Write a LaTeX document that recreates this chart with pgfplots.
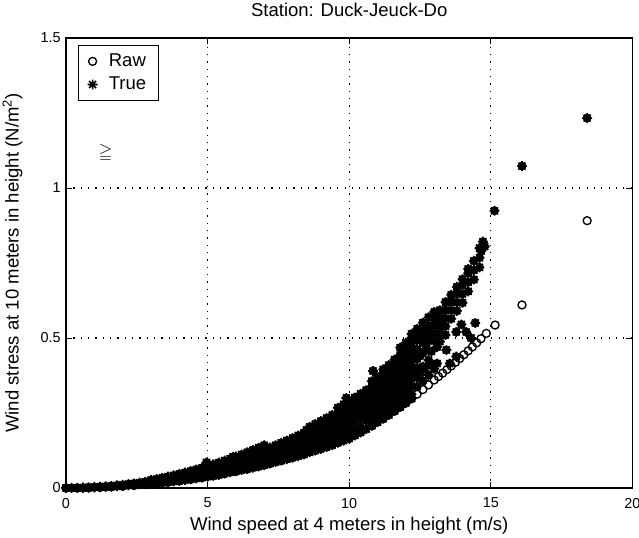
\documentclass[border=0pt]{standalone}
\usepackage{fontspec}
\usepackage{amssymb}
\setmainfont{Liberation Sans}
\usepackage{pgfplots}
\usepackage{pgfplotstable}
\pgfplotsset{compat=1.18}
\newcommand\labelfont{\fontsize{13.9}{16}\selectfont}
\newcommand\tickfont{\fontsize{10.8}{12}\selectfont}
\pgfdeclareplotmark{mstar}{%
 \pgfpathmoveto{\pgfqpoint{-\pgfplotmarksize}{0pt}}\pgfpathlineto{\pgfqpoint{\pgfplotmarksize}{0pt}}%
 \pgfpathmoveto{\pgfqpoint{0pt}{-\pgfplotmarksize}}\pgfpathlineto{\pgfqpoint{0pt}{\pgfplotmarksize}}%
 \pgfpathmoveto{\pgfqpoint{-0.7071\pgfplotmarksize}{-0.7071\pgfplotmarksize}}\pgfpathlineto{\pgfqpoint{0.7071\pgfplotmarksize}{0.7071\pgfplotmarksize}}%
 \pgfpathmoveto{\pgfqpoint{-0.7071\pgfplotmarksize}{0.7071\pgfplotmarksize}}\pgfpathlineto{\pgfqpoint{0.7071\pgfplotmarksize}{-0.7071\pgfplotmarksize}}%
 \pgfusepathqstroke}
\pgfplotstableread[row sep=\\]{
x y\\
0 0\\ 0.2 0.0001\\ 0.4 0.0003\\ 0.6 0.0006\\ 0.6 0.0009\\ 0.8 0.0012\\ 0.8 0.0017\\ 1 0.0018\\ 1 0.0026\\
1.2 0.0026\\ 1.2 0.0037\\ 1.4 0.0035\\ 1.4 0.0051\\ 1.6 0.0046\\ 1.6 0.0067\\ 1.8 0.0058\\ 1.8 0.0084\\
2 0.0072\\ 2 0.0104\\ 2.2 0.0087\\ 2.2 0.0126\\ 2.4 0.0104\\ 2.4 0.015\\ 2.6 0.0122\\ 2.6 0.0176\\
2.8 0.0141\\ 2.8 0.0204\\
3 0.0135\\ 3 0.0198\\ 3 0.0261\\
3.2 0.0154\\ 3.2 0.0225\\ 3.2 0.0297\\
3.4 0.0173\\ 3.4 0.0254\\ 3.4 0.0335\\
3.6 0.0194\\ 3.6 0.0285\\ 3.6 0.0376\\
3.8 0.0217\\ 3.8 0.0318\\ 3.8 0.0419\\
4 0.024\\ 4 0.0352\\ 4 0.0464\\
4.2 0.0265\\ 4.2 0.0388\\ 4.2 0.0512\\
4.4 0.029\\ 4.4 0.0426\\ 4.4 0.0561\\
4.6 0.0317\\ 4.6 0.0466\\ 4.6 0.0614\\
4.8 0.0346\\ 4.8 0.0507\\ 4.8 0.0668\\
5 0.0375\\ 5 0.055\\ 5 0.0725\\
5.2 0.0406\\ 5.2 0.0595\\ 5.2 0.0784\\
5.4 0.0437\\ 5.4 0.0642\\ 5.4 0.0846\\
5.6 0.0486\\ 5.6 0.0627\\ 5.6 0.0768\\ 5.6 0.0909\\
5.8 0.0521\\ 5.8 0.0673\\ 5.8 0.0824\\ 5.8 0.0976\\
6 0.0558\\ 6 0.072\\ 6 0.0882\\ 6 0.1044\\
6.2 0.0596\\ 6.2 0.0769\\ 6.2 0.0942\\ 6.2 0.1115\\
6.4 0.0635\\ 6.4 0.0819\\ 6.4 0.1004\\ 6.4 0.1188\\
6.6 0.0675\\ 6.6 0.0871\\ 6.6 0.1067\\ 6.6 0.1263\\
6.8 0.0717\\ 6.8 0.0925\\ 6.8 0.1133\\ 6.8 0.1341\\
7 0.076\\ 7 0.098\\ 7 0.1201\\ 7 0.1421\\
7.2 0.0819\\ 7.2 0.0959\\ 7.2 0.1089\\ 7.2 0.1218\\ 7.2 0.1348\\
7.4 0.0865\\ 7.4 0.1013\\ 7.4 0.115\\ 7.4 0.1287\\ 7.4 0.1424\\
7.6 0.0913\\ 7.6 0.1069\\ 7.6 0.1213\\ 7.6 0.1357\\ 7.6 0.1502\\
7.8 0.0961\\ 7.8 0.1126\\ 7.8 0.1278\\ 7.8 0.143\\ 7.8 0.1582\\
8 0.1011\\ 8 0.1184\\ 8 0.1344\\ 8 0.1504\\ 8 0.1664\\
8.2 0.1062\\ 8.2 0.1244\\ 8.2 0.1412\\ 8.2 0.158\\ 8.2 0.1748\\
8.4 0.1115\\ 8.4 0.1305\\ 8.4 0.1482\\ 8.4 0.1658\\ 8.4 0.1835\\
8.6 0.1191\\ 8.6 0.1368\\ 8.6 0.1553\\ 8.6 0.1738\\ 8.6 0.1886\\ 8.6 0.2034\\
8.8 0.1247\\ 8.8 0.1433\\ 8.8 0.1626\\ 8.8 0.182\\ 8.8 0.1975\\ 8.8 0.213\\
9 0.1304\\ 9 0.1499\\ 9 0.1701\\ 9 0.1904\\ 9 0.2066\\ 9 0.2228\\
9.2 0.1363\\ 9.2 0.1566\\ 9.2 0.1777\\ 9.2 0.1989\\ 9.2 0.2158\\ 9.2 0.2328\\
9.4 0.1423\\ 9.4 0.1635\\ 9.4 0.1856\\ 9.4 0.2076\\ 9.4 0.2253\\ 9.4 0.243\\
9.6 0.151\\ 9.6 0.1751\\ 9.6 0.1981\\ 9.6 0.2212\\ 9.6 0.2442\\ 9.6 0.2673\\
9.8 0.1579\\ 9.8 0.1825\\ 9.8 0.2065\\ 9.8 0.2305\\ 9.8 0.2545\\ 9.8 0.2785\\
10 0.165\\ 10 0.19\\ 10 0.215\\ 10 0.24\\ 10 0.265\\ 10 0.29\\
10.2 0.175\\ 10.2 0.1977\\ 10.2 0.2237\\ 10.2 0.2497\\ 10.2 0.2757\\ 10.2 0.3017\\
10.4 0.1854\\ 10.4 0.2055\\ 10.4 0.2325\\ 10.4 0.2596\\ 10.4 0.2866\\ 10.4 0.3137\\
10.6 0.1962\\ 10.6 0.2247\\ 10.6 0.2449\\ 10.6 0.2652\\ 10.6 0.2854\\ 10.6 0.3056\\ 10.6 0.3258\\
10.8 0.2074\\ 10.8 0.2333\\ 10.8 0.2543\\ 10.8 0.2753\\ 10.8 0.2963\\ 10.8 0.3173\\ 10.8 0.3383\\ 10.8 0.3558\\
11 0.219\\ 11 0.242\\ 11 0.2638\\ 11 0.2856\\ 11 0.3073\\ 11 0.3291\\ 11 0.3509\\ 11 0.3691\\
11.2 0.2311\\ 11.2 0.2509\\ 11.2 0.2735\\ 11.2 0.296\\ 11.2 0.3186\\ 11.2 0.3412\\ 11.2 0.3638\\ 11.2 0.3826\\ 11.2 0.3951\\
11.4 0.2435\\ 11.4 0.2599\\ 11.4 0.2833\\ 11.4 0.3067\\ 11.4 0.3301\\ 11.4 0.3535\\ 11.4 0.3769\\ 11.4 0.3964\\ 11.4 0.4094\\
11.6 0.2565\\ 11.6 0.2826\\ 11.6 0.3068\\ 11.6 0.331\\ 11.6 0.3552\\ 11.6 0.3795\\ 11.6 0.4037\\ 11.6 0.4279\\
11.8 0.2698\\ 11.8 0.2924\\ 11.8 0.3175\\ 11.8 0.3425\\ 11.8 0.3676\\ 11.8 0.3927\\ 11.8 0.4177\\ 11.8 0.4428\\ 11.8 0.4678\\
12 0.2837\\ 12 0.3024\\ 12 0.3283\\ 12 0.3542\\ 12 0.3802\\ 12 0.4061\\ 12 0.432\\ 12 0.4579\\ 12 0.4838\\
12.2 0.298\\ 12.2 0.3126\\ 12.2 0.3394\\ 12.2 0.3661\\ 12.2 0.3929\\ 12.2 0.4197\\ 12.2 0.4465\\ 12.2 0.4733\\ 12.2 0.5001\\ 12.2 0.5135\\
12.4 0.3383\\ 12.4 0.369\\ 12.4 0.3998\\ 12.4 0.4305\\ 12.4 0.4613\\ 12.4 0.492\\ 12.4 0.5151\\ 12.4 0.5305\\
12.6 0.3572\\ 12.6 0.4048\\ 12.6 0.4525\\ 12.6 0.4842\\ 12.6 0.508\\ 12.6 0.5318\\ 12.6 0.5509\\
12.8 0.3768\\ 12.8 0.426\\ 12.8 0.4915\\ 12.8 0.5161\\ 12.8 0.5407\\ 12.8 0.5685\\
13 0.3972\\ 13 0.4901\\ 13 0.5155\\ 13 0.5408\\ 13 0.5662\\ 13 0.5864\\
12.5 0.385\\ 12.5 0.44\\ 12.7 0.475\\ 12.9 0.41\\ 12.9 0.455\\ 13.1 0.47\\ 13.2 0.488\\ 13.4 0.51\\
13.2 0.514\\ 13.2 0.5401\\ 13.2 0.5663\\ 13.2 0.5924\\
13.4 0.5387\\ 13.4 0.5656\\ 13.4 0.5925\\ 13.4 0.6195\\
13.6 0.5641\\ 13.6 0.5919\\ 13.6 0.6196\\ 13.6 0.6437\\
13.8 0.5904\\ 13.8 0.6189\\ 13.8 0.6475\\ 13.8 0.6703\\
14 0.6174\\ 14 0.6468\\ 14 0.6762\\ 14 0.6958\\
14.2 0.6553\\ 14.2 0.6856\\ 14.2 0.7158\\ 14.2 0.7299\\
14.4 0.6947\\ 14.4 0.7258\\ 14.4 0.7569\\
14.6 0.7354\\ 14.6 0.7674\\ 14.6 0.7994\\
14.66 0.79\\ 14.72 0.821\\ 14.78 0.805\\
11.78 0.325\\ 12.25 0.4\\ 12.37 0.37\\ 12.66 0.4\\ 12.72 0.46\\ 13.1 0.415\\ 13.3 0.555\\ 13.43 0.46\\
13.55 0.415\\ 13.78 0.438\\ 13.78 0.52\\ 13.96 0.545\\ 14.13 0.52\\ 14.3 0.5\\ 14.45 0.55\\
4.96 0.085\\ 5.9 0.104\\ 6.84 0.132\\ 8.49 0.193\\ 9.9 0.3\\
10.84 0.39\\ 15.13 0.924\\ 16.1 1.073\\ 18.4 1.233\\
}\truedata
\begin{document}
\begin{tikzpicture}
\begin{axis}[
 scale only axis, width=424.9pt, height=337.5pt,
 xmin=0, xmax=20, ymin=0, ymax=1.5,
 xtick={0,5,10,15,20}, xticklabels={0,5,10,15,20},
 ytick={0,0.5,1,1.5}, yticklabels={0,0.5,1,1.5},
 tick pos=both, tick align=inside, major tick length=4.5pt,
 tick style={black, line width=0.6pt},
 axis line style={black, line width=1pt},
 ticklabel style={font=\tickfont},
 xticklabel style={yshift=-4pt},
 yticklabel style={xshift=-0.5pt},
 grid=major,
 major grid style={black, line width=0.9pt, dash pattern=on 0.9pt off 4.6pt},
 clip=false,
 title={Station: Duck-Jeuck-Do},
 title style={font=\labelfont, at={(axis description cs:0.5,1)}, anchor=base, yshift=10pt},
 xlabel={Wind speed at 4 meters in height (m/s)},
 xlabel style={font=\labelfont, at={(axis description cs:0.5,0)}, anchor=base, yshift=-32pt},
 ylabel={Wind stress at 10 meters in height (N/m\textsuperscript{2})},
 ylabel style={font=\labelfont, at={(axis description cs:-0.0838,0.5)}, anchor=base, rotate=0},
 legend style={draw=black, line width=0.5pt, fill=white, at={(axis description cs:0,1)}, anchor=north west,
   xshift=9pt, yshift=-5.25pt, inner xsep=7pt, inner ysep=4.5pt, row sep=2.3pt,
   font=\labelfont, nodes={inner sep=2pt},
   /tikz/every odd column/.append style={column sep=6.5pt}},
 legend cell align=left,
 legend image code/.code={\draw[#1] plot coordinates {(0pt,0pt)};},
]
\addplot[only marks, mark=o, mark size=3pt, line width=1pt, black] coordinates {
(0,0) (0.4,0.0002) (0.8,0.0009) (1.2,0.002) (1.6,0.0036) (2,0.0056) (2.4,0.0082) (2.8,0.0112)
(3.2,0.0148) (3.6,0.0189) (4,0.0235) (4.4,0.0287) (4.8,0.0344) (5.2,0.0407) (5.6,0.0476)
(6,0.0551) (6.4,0.0632) (6.8,0.0719) (7.2,0.0812) (7.6,0.0911) (8,0.1018) (8.4,0.113)
(8.8,0.125) (9.2,0.1376) (9.6,0.151) (10,0.165) (10.4,0.1854) (10.8,0.2074) (11.2,0.2311)
(11.6,0.2565) (11.8,0.2698) (12,0.2837) (12.2,0.298) (12.4,0.3127) (12.6,0.328) (12.8,0.3437)
(13,0.36) (13.15,0.3713) (13.3,0.3828) (13.45,0.3946) (13.6,0.4065) (13.75,0.4188) (13.9,0.4314)
(14.05,0.4442) (14.2,0.4571) (14.35,0.4703) (14.5,0.4838) (14.65,0.4975) (14.84,0.5153)
(15.15,0.543) (16.1,0.61) (18.4,0.891)
};
\addlegendentry{Raw}
\addplot[only marks, mark=mstar, mark size=3.7pt, line width=1.2pt, black] table[x=x,y=y] {\truedata};
\addlegendentry{True}
\addplot[only marks, mark=*, mark size=3.1pt, black, forget plot] table[x=x,y=y] {\truedata};
\node[font=\fontsize{13}{13}\selectfont] at (axis cs:1.4,1.117) {$\geqq$};
\end{axis}
\pgfresetboundingbox
\path[use as bounding box] ([xshift=-49.5pt,yshift=-37.5pt]current axis.south west) rectangle ([xshift=4.9pt,yshift=28.5pt]current axis.north east);
\end{tikzpicture}
\end{document}
